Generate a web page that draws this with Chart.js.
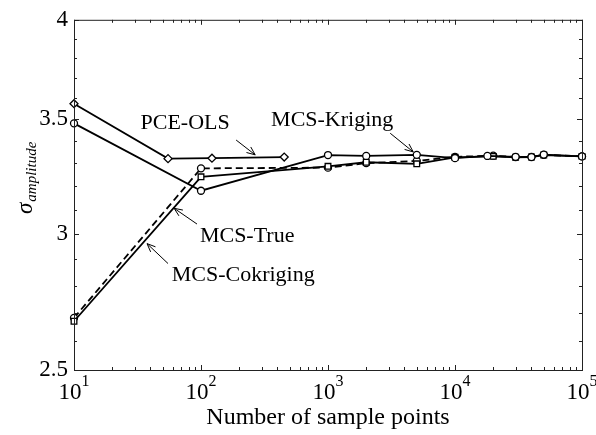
<!DOCTYPE html>
<html>
<head>
<meta charset="utf-8">
<script src="https://cdn.jsdelivr.net/npm/chart.js@4.4.0/dist/chart.umd.min.js"></script>
<style>
  body { margin: 0; background: #fff; }
  #wrap { width: 596px; height: 435px; }
</style>
</head>
<body>
<div id="wrap"><canvas id="myChart"></canvas></div>
<script>
// sample sizes (x) and sigma values
var samples = [10, 100, 1000, 2000, 5000, 10000, 20000, 30000, 40000, 50000, 100000];
var krigSamples = [10, 100, 1000, 2000, 5000, 10000, 18000, 30000, 40000, 50000, 100000];
var pceSamples = [10, 55, 122, 452];

var pceOls = [3.574, 3.320, 3.322, 3.327];
var mcsKriging = [3.481, 3.180, 3.336, 3.332, 3.337, 3.322, 3.332, 3.328, 3.327, 3.338, 3.330];
var mcsTrue = [2.669, 3.240, 3.286, 3.304, 3.297, 3.326, 3.330, 3.326, 3.327, 3.336, 3.330];
var mcsCokriging = [2.681, 3.277, 3.280, 3.300, 3.310, 3.328, 3.333, 3.327, 3.328, 3.337, 3.330];

var xTicks = [10, 100, 1000, 10000, 100000];
var xExponents = ['1', '2', '3', '4', '5'];
var yTicks = [2.5, 3, 3.5, 4];

// text labels with arrows, given in data units
var notes = [
    { text: 'PCE-OLS', at: [75, 3.481], from: [189, 3.404], to: [267, 3.337] },
    { text: 'MCS-Kriging', at: [1079, 3.495], from: [3090, 3.435], to: [4690, 3.350] },
    { text: 'MCS-True', at: [231, 2.990], from: [93, 3.041], to: [61.4, 3.106] },
    { text: 'MCS-Cokriging', at: [215, 2.839], from: [55, 2.884], to: [37.6, 2.962] }
];

var serif = "'Liberation Serif', 'Times New Roman', serif";

function toPoints(xs, ys) {
    return xs.map(function (x, i) { return { x: x, y: ys[i] }; });
}

function makeSet(label, xs, ys, style, radius, dash) {
    return {
        label: label,
        data: toPoints(xs, ys),
        showLine: true,
        borderColor: '#000',
        borderWidth: 1.8,
        borderDash: dash || [],
        pointStyle: style,
        pointRadius: radius,
        pointBorderWidth: 1.3,
        pointBorderColor: '#000',
        pointBackgroundColor: '#fff',
        clip: false
    };
}

var axesPlugin = {
    id: 'matlabAxes',
    afterDraw: function (chart) {
        var ctx = chart.ctx;
        var a = chart.chartArea;
        var xs = chart.scales.x;
        var ys = chart.scales.y;

        ctx.save();
        ctx.strokeStyle = '#222';
        ctx.lineWidth = 1;
        ctx.strokeRect(a.left + 0.5, a.top + 0.5, a.right - a.left, a.bottom - a.top);

        // x ticks, inward on bottom and top
        ctx.beginPath();
        for (var d = 1; d <= 5; d++) {
            for (var m = 1; m <= 9; m++) {
                var v = m * Math.pow(10, d);
                if (v > 100000) break;
                var px = Math.round(xs.getPixelForValue(v)) + 0.5;
                var len = m === 1 ? 5 : 3;
                ctx.moveTo(px, a.bottom);
                ctx.lineTo(px, a.bottom - len);
                ctx.moveTo(px, a.top);
                ctx.lineTo(px, a.top + len);
            }
        }
        // y ticks, every 0.1
        for (var k = 25; k <= 40; k++) {
            var yv = k / 10;
            var py = Math.round(ys.getPixelForValue(yv)) + 0.5;
            var ylen = (k % 5 === 0) ? 5 : 3;
            ctx.moveTo(a.left, py);
            ctx.lineTo(a.left + ylen, py);
            ctx.moveTo(a.right, py);
            ctx.lineTo(a.right - ylen, py);
        }
        ctx.stroke();

        // x tick labels as 10 with superscript
        ctx.fillStyle = '#000';
        ctx.textBaseline = 'alphabetic';
        xTicks.forEach(function (v, i) {
            ctx.font = '23px ' + serif;
            var wBase = ctx.measureText('10').width;
            ctx.font = '16px ' + serif;
            var wExp = ctx.measureText(xExponents[i]).width;
            var x0 = xs.getPixelForValue(v) - (wBase + wExp) / 2;
            ctx.font = '23px ' + serif;
            ctx.textAlign = 'left';
            ctx.fillText('10', x0, 399);
            ctx.font = '16px ' + serif;
            ctx.fillText(xExponents[i], x0 + wBase, 386);
        });

        // y axis title: sigma with subscript
        ctx.save();
        ctx.translate(32, 214);
        ctx.rotate(-Math.PI / 2);
        ctx.textAlign = 'left';
        ctx.font = 'italic 23px ' + serif;
        ctx.fillText('\u03c3', 0, 0);
        var sw = ctx.measureText('\u03c3').width;
        ctx.font = 'italic 15px ' + serif;
        ctx.fillText('amplitude', sw + 1, 4);
        ctx.restore();

        // labels and arrows
        ctx.font = '22px ' + serif;
        ctx.textAlign = 'center';
        ctx.textBaseline = 'middle';
        ctx.lineWidth = 1;
        ctx.strokeStyle = '#000';
        notes.forEach(function (n) {
            ctx.fillText(n.text, xs.getPixelForValue(n.at[0]), ys.getPixelForValue(n.at[1]));
            var x1 = xs.getPixelForValue(n.from[0]), y1 = ys.getPixelForValue(n.from[1]);
            var x2 = xs.getPixelForValue(n.to[0]), y2 = ys.getPixelForValue(n.to[1]);
            var ang = Math.atan2(y2 - y1, x2 - x1);
            ctx.beginPath();
            ctx.moveTo(x1, y1);
            ctx.lineTo(x2, y2);
            ctx.moveTo(x2 - 9 * Math.cos(ang - 0.4), y2 - 9 * Math.sin(ang - 0.4));
            ctx.lineTo(x2, y2);
            ctx.lineTo(x2 - 9 * Math.cos(ang + 0.4), y2 - 9 * Math.sin(ang + 0.4));
            ctx.stroke();
        });
        ctx.restore();
    }
};

function createChart() {
    var ctx = document.getElementById('myChart');

    var data = {
        datasets: [
            makeSet('PCE-OLS', pceSamples, pceOls, 'rectRot', 4),
            makeSet('MCS-Kriging', krigSamples, mcsKriging, 'circle', 3.5),
            makeSet('MCS-True', samples, mcsTrue, 'rect', 4),
            makeSet('MCS-Cokriging', samples, mcsCokriging, 'circle', 3.5, [7, 4])
        ]
    };

    var option = {
        responsive: true,
        maintainAspectRatio: false,
        animation: false,
        layout: { padding: { top: 15, right: 14, left: 0, bottom: 0 } },
        plugins: {
            legend: { display: false },
            tooltip: { enabled: false }
        },
        scales: {
            x: {
                type: 'logarithmic',
                min: 10,
                max: 100000,
                afterBuildTicks: function (s) {
                    s.ticks = xTicks.map(function (v) { return { value: v }; });
                },
                afterFit: function (s) { s.height = 65; },
                grid: { display: false, drawTicks: false },
                border: { display: false },
                ticks: { display: false },
                title: {
                    display: true,
                    text: 'Number of sample points',
                    color: '#000',
                    font: { family: serif, size: 24 },
                    padding: { top: 0, bottom: 3 }
                }
            },
            y: {
                type: 'logarithmic',
                min: 2.5,
                max: 4,
                afterBuildTicks: function (s) {
                    s.ticks = yTicks.map(function (v) { return { value: v }; });
                },
                afterFit: function (s) { s.width = 74; },
                grid: { display: false, drawTicks: false },
                border: { display: false },
                ticks: {
                    color: '#000',
                    padding: 6,
                    font: { family: serif, size: 23 },
                    callback: function (v) { return String(v); }
                }
            }
        }
    };

    var myChart = new Chart(ctx, {
        type: 'scatter',
        data: data,
        options: option,
        plugins: [axesPlugin]
    });
}

createChart();
</script>
</body>
</html>
